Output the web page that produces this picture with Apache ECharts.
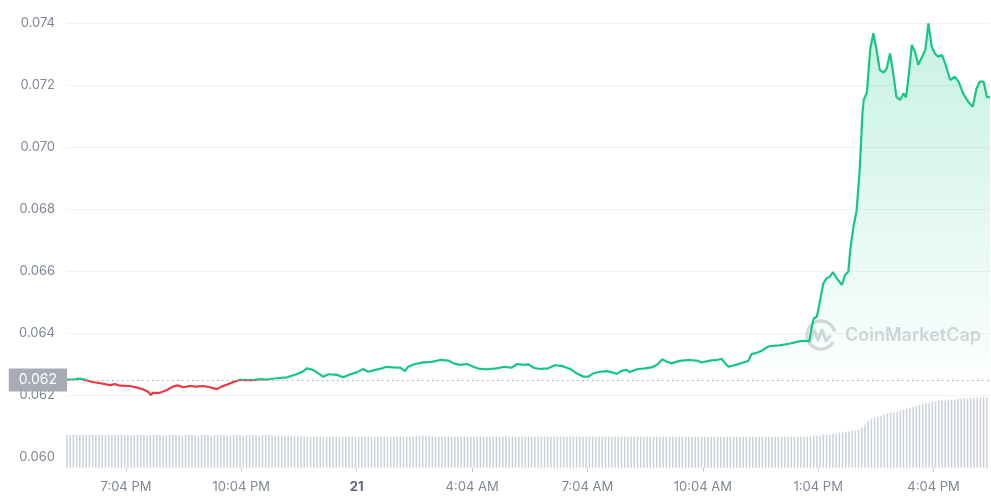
<!DOCTYPE html>
<html>
<head>
<meta charset="utf-8">
<script src="https://cdn.jsdelivr.net/npm/echarts@6/dist/echarts.min.js"></script>
<style>
html,body{margin:0;padding:0;background:#fff;}
#chart{width:991px;height:500px;}
</style>
</head>
<body>
<div id="chart"></div>
<script>
// minutes since 5:32 PM on the 20th
const priceTimes = [0,9,20,28,39,52,67,75,83,98,109,119,126,131,134,145,156,165,173,181,192,202,212,223,234,241,249,259,270,280,291,301,312,327,343,358,369,374,384,392,400,408,421,431,442,452,462,470,481,491,499,509,520,527,532,543,556,569,582,595,603,613,624,634,644,655,670,683,694,702,712,720,728,738,751,761,772,785,795,806,813,821,832,842,852,858,865,873,878,889,902,912,920,929,936,943,956,972,985,990,1003,1014,1021,1027,1032,1045,1055,1063,1068,1076,1084,1092,1097,1112,1128,1144,1154,1158,1162,1165,1170,1175,1180,1185,1190,1195,1201,1209,1214,1219,1222,1227,1232,1237,1241,1243,1248,1253,1258,1263,1268,1274,1279,1284,1289,1294,1300,1305,1309,1313,1318,1323,1328,1333,1339,1344,1349,1354,1359,1365,1370,1378,1385,1391,1398,1406,1413,1419,1424,1430,1435,1440];
const priceValues = [0.06250,0.06250,0.06253,0.06249,0.06242,0.06238,0.06232,0.06235,0.06230,0.06229,0.06224,0.06218,0.06211,0.06200,0.06207,0.06207,0.06216,0.06227,0.06231,0.06225,0.06229,0.06227,0.06229,0.06225,0.06219,0.06227,0.06233,0.06241,0.06249,0.06248,0.06248,0.06251,0.06250,0.06254,0.06257,0.06267,0.06277,0.06286,0.06281,0.06270,0.06259,0.06267,0.06265,0.06257,0.06267,0.06273,0.06284,0.06275,0.06281,0.06286,0.06291,0.06289,0.06288,0.06277,0.06291,0.06300,0.06305,0.06307,0.06313,0.06311,0.06302,0.06297,0.06300,0.06291,0.06284,0.06283,0.06286,0.06291,0.06288,0.06300,0.06297,0.06299,0.06288,0.06284,0.06286,0.06296,0.06294,0.06284,0.06270,0.06259,0.06259,0.06270,0.06275,0.06277,0.06272,0.06268,0.06278,0.06281,0.06274,0.06283,0.06286,0.06289,0.06297,0.06315,0.06307,0.06302,0.06310,0.06313,0.06310,0.06305,0.06311,0.06313,0.06317,0.06302,0.06291,0.06298,0.06305,0.06310,0.06332,0.06336,0.06343,0.06354,0.06358,0.06360,0.06366,0.06374,0.06375,0.06373,0.06420,0.06447,0.06453,0.06506,0.06560,0.06576,0.06582,0.06596,0.06576,0.06555,0.06587,0.06598,0.06668,0.06743,0.06797,0.06936,0.07110,0.07152,0.07177,0.07313,0.07367,0.07313,0.07248,0.07240,0.07254,0.07302,0.07238,0.07162,0.07152,0.07173,0.07160,0.07227,0.07329,0.07307,0.07265,0.07286,0.07313,0.07399,0.07324,0.07302,0.07291,0.07297,0.07270,0.07216,0.07227,0.07211,0.07173,0.07146,0.07130,0.07189,0.07211,0.07211,0.07162,0.07160];
const openPrice = 0.06248;
// 5-minute volume (relative units)
const volumeValues = [
33,33,33,33,32,33,33,33,33,32,33,33,
33,33,32,33,33,33,33,33,32,33,33,33,
33,32,33,33,33,33,32,33,33,33,33,33,
32,33,33,33,33,32,33,33,33,32,33,33,
33,33,32,32,33,33,33,32,33,33,33,33,
32,33,33,33,32,32,32,32,32,32,32,32,
32,32,31,31,31,31,31,31,31,31,31,31,
31,31,31,31,31,31,31,31,31,31,31,31,
31,31,31,31,31,31,31,31,31,31,31,31,
31,32,32,32,32,32,31,31,31,31,31,31,
31,31,31,31,31,31,31,31,31,31,31,31,
31,31,31,31,31,32,31,31,31,31,31,31,
31,31,31,31,31,31,31,31,31,31,31,31,
31,31,31,31,31,31,31,31,31,31,31,31,
31,31,31,31,31,31,31,31,31,31,31,31,
31,31,31,31,31,31,31,31,31,31,31,31,
31,31,31,31,31,31,31,31,31,31,31,31,
31,31,31,31,31,31,31,31,31,31,31,31,
31,31,31,31,31,31,31,31,31,31,31,31,
31,31,31,31,31,32,32,32,33,33,33,34,
34,35,35,36,36,37,37,38,40,43,47,49,
50,51,52,53,54,55,55,56,57,58,59,60,
61,62,63,64,65,65,66,66,67,67,67,68,
68,68,69,69,70,69,70,70,70,70,70,70
];
const tickMinutes = [92,272,452,632,812,992,1172,1352];
const tickLabels = ['7:04 PM','10:04 PM','21','4:04 AM','7:04 AM','10:04 AM','1:04 PM','4:04 PM'];
const yTicks = {min:0.060, max:0.074, step:0.002};

const chart = echarts.init(document.getElementById('chart'), null, {renderer:'canvas'});
const priceData = priceTimes.map((t,i)=>[t, priceValues[i]]);
const volumeData = volumeValues.map((v,i)=>[i*5, v]);
const FONT = 'Inter, "Noto Sans", sans-serif';

chart.setOption({
  animation:false,
  backgroundColor:'#ffffff',
  grid:[
    {left:67, right:1, top:23, bottom:43},
    {left:67, right:1, top:395, bottom:32.3}
  ],
  xAxis:[
    {type:'value', gridIndex:0, min:0, max:1440, show:false},
    {type:'value', gridIndex:1, min:0, max:1440,
      axisLine:{show:false},
      splitLine:{show:false},
      axisTick:{show:true, customValues:tickMinutes, length:4, lineStyle:{color:'#c3c7cf'}},
      axisLabel:{
        customValues:tickMinutes, margin:13, fontSize:13, fontFamily:FONT, color:'#7f8796',
        formatter:function(v){
          const i = tickMinutes.indexOf(Math.round(v));
          if(i<0) return '';
          return tickLabels[i]==='21' ? '{b|21}' : tickLabels[i];
        },
        rich:{b:{fontWeight:'bold', color:'#58667e', fontSize:13, fontFamily:FONT}}
      }
    }
  ],
  yAxis:[
    {type:'value', gridIndex:0, min:yTicks.min, max:yTicks.max, interval:yTicks.step,
      axisLine:{show:false}, axisTick:{show:false},
      axisLabel:{margin:12, fontSize:13, fontFamily:FONT, color:'#7f8796', formatter:v=>v.toFixed(3)},
      splitLine:{show:true, showMinLine:false, lineStyle:{color:'#eff1f4', width:1}}
    },
    {type:'value', gridIndex:1, min:0, max:72.7, show:false}
  ],
  visualMap:{
    show:false, type:'piecewise', seriesIndex:0, dimension:1,
    pieces:[{gte:0.05, lt:openPrice, color:'#ea3943'},{gte:openPrice, lte:0.08, color:'#16c784'}]
  },
  graphic:[
    {type:'arc', z:1, shape:{cx:821, cy:335, r:14, startAngle:0.5, endAngle:Math.PI*2-0.25},
      style:{stroke:'#d5d8de', lineWidth:3.2, fill:null}},
    {type:'polyline', z:1, shape:{points:[[810,342],[814,330],[818,340],[822,330],[826,341],[830,336]]},
      style:{stroke:'#d5d8de', lineWidth:3, fill:null, lineJoin:'round', lineCap:'round'}},
    {type:'text', z:1, x:845, y:336, style:{text:'CoinMarketCap', fill:'#d3d6dc', font:'600 18px '+FONT, verticalAlign:'middle'}}
  ],
  series:[
    {
      type:'line', xAxisIndex:0, yAxisIndex:0, data:priceData, z:3,
      showSymbol:false, symbol:'none', smooth:false,
      lineStyle:{width:2.2},
      areaStyle:{
        origin:openPrice,
        color:new echarts.graphic.LinearGradient(0,0,0,1,[
          {offset:0, color:'rgba(22,199,132,0.34)'},
          {offset:1, color:'rgba(22,199,132,0)'}
        ])
      },
      markLine:{
        silent:true, symbol:'none', animation:false,
        lineStyle:{type:[1.5,3.5], color:'#a1a6b0', width:1},
        label:{show:true, position:'start', formatter:'0.062', distance:0,
          backgroundColor:'#a6abb5', color:'#ffffff', fontSize:14, fontFamily:FONT,
          padding:[5,10,4,10], borderRadius:1},
        data:[[{coord:[0, openPrice]},{coord:[1440, openPrice]}]]
      }
    },
    {
      type:'bar', xAxisIndex:1, yAxisIndex:1, data:volumeData,
      barWidth:1.5, itemStyle:{color:'#cbd0da'}, z:1, silent:true
    }
  ]
});
</script>
</body>
</html>
